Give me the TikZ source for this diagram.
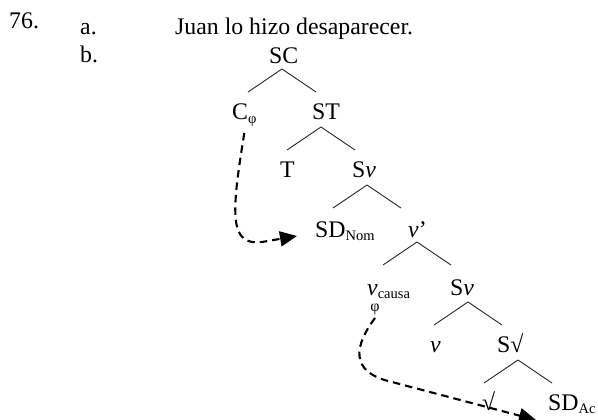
\documentclass[tikz,border=0pt]{standalone}
\usepackage{fontspec}
\setmainfont{Liberation Serif}
\usetikzlibrary{arrows.meta}
\newcommand\lsub[1]{\raisebox{-3.5pt}{\fontsize{14.5}{14.5}\selectfont #1}}
\tikzset{
  lab/.style={anchor=base west, inner sep=0pt, font=\fontsize{23.8}{27}\selectfont},
  branch/.style={line width=0.9pt, draw=black!85},
  movearrow/.style={line width=2.1pt, dash pattern=on 7.5pt off 5pt,
    -{Triangle[length=17pt,width=15pt]}},
}
\begin{document}
\begin{tikzpicture}[x=1pt,y=-1pt]
\useasboundingbox (0,0) rectangle (598,420);
% labels
\node[lab] (num) at (9,29) {76.};
\node[lab] (a) at (80,35) {a.};
\node[lab] (b) at (80,63) {b.};
\node[lab] (sent) at (175,35) {Juan lo hizo desaparecer.};
% tree nodes
\node[lab] (SC) at (269,64) {SC};
\node[lab] (C) at (232,120) {C\lsub{φ}};
\node[lab] (ST) at (312,120) {ST};
\node[lab] (T) at (280,177) {T};
\node[lab] (Sv1) at (352,177) {S\textit{v}};
\node[lab] (SDN) at (315,237) {SD\lsub{Nom}};
\node[lab] (vp) at (408,237) {\textit{v}’};
\node[lab] (vc) at (367,295) {\textit{v}\lsub{causa}};
\node[inner sep=0pt, font=\fontsize{16}{16}\selectfont] (phi) at (375,309) {φ};
\node[lab] (Sv2) at (450,295) {S\textit{v}};
\node[lab] (v) at (430,352) {\textit{v}};
\node[lab] (Sr) at (497,352) {S√};
\node[lab] (r) at (482,410) {√};
\node[lab] (SDA) at (548,410) {SD\lsub{Ac}};
% branches
\coordinate (SCa) at (282,69);
\coordinate (STa) at (321,127);
\coordinate (Sv1a) at (367,185);
\coordinate (vpa) at (417,242);
\coordinate (Sv2a) at (468,302);
\coordinate (Sra) at (518,360);
\foreach \p in {SCa,STa,Sv1a,vpa,Sv2a,Sra}{
  \draw[branch] (\p) -- ++(-34,23);
  \draw[branch] (\p) -- ++(34,23);
}
% movement arrows
\coordinate (e1) at (297,236);
\draw[movearrow] ([yshift=-13pt]C.base) .. controls (231,215) and (229,246) .. (262,242) -- (e1);
\coordinate (e2) at (536,420);
\draw[movearrow] ([yshift=-9pt]phi.center) .. controls (355,345) and (348,372) .. (392,382) -- (e2);
\end{tikzpicture}
\end{document}
